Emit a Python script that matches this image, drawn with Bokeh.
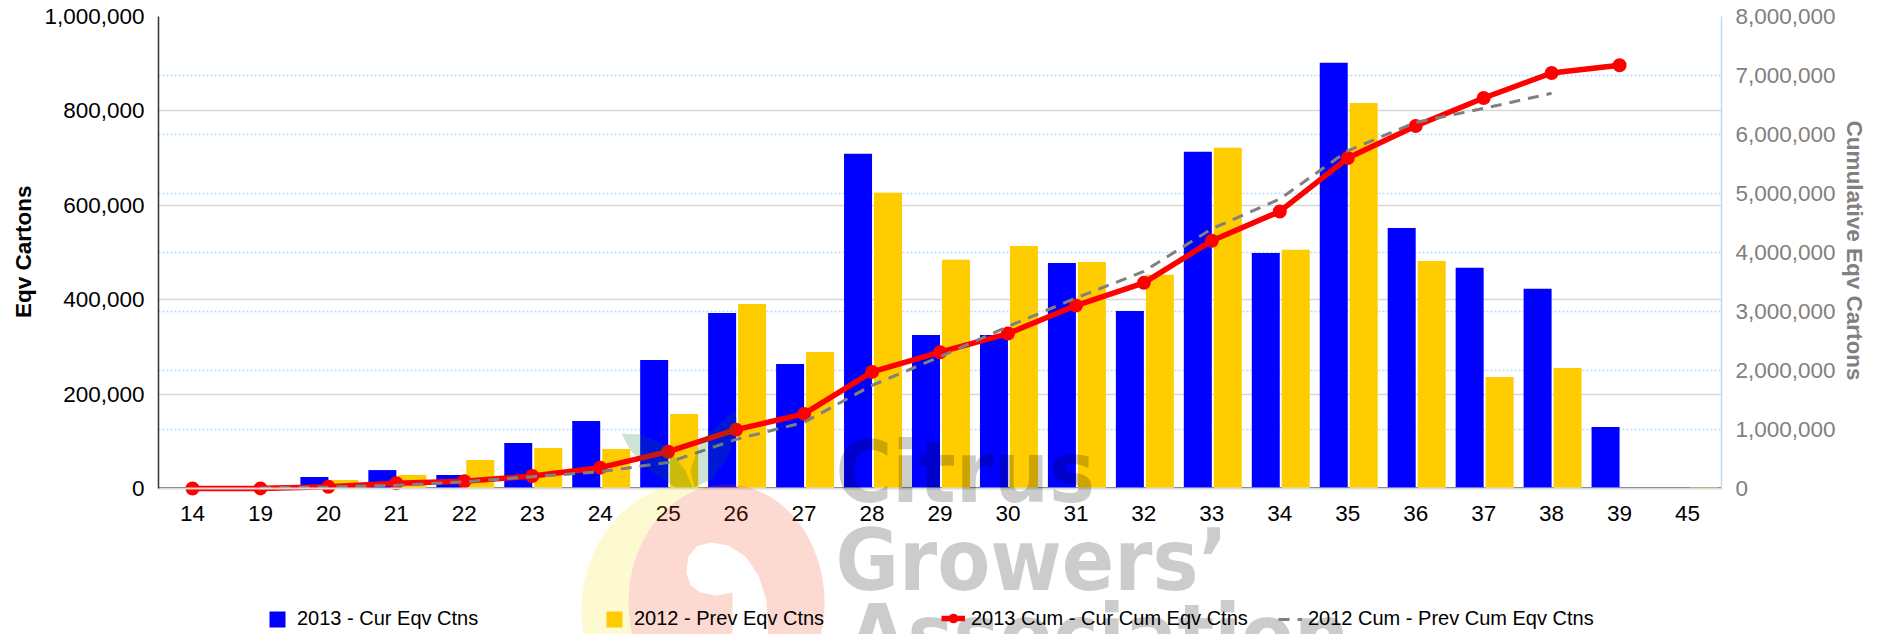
import numpy as np
from bokeh.embed import file_html
from bokeh.resources import INLINE
from bokeh.plotting import figure
from bokeh.models import (FactorRange, Range1d, LinearAxis, NumeralTickFormatter, FixedTicker, Grid,
                          Legend, LegendItem, PolyAnnotation, Label, Span, Title)
from bokeh.transform import dodge

weeks = ["14", "19", "20", "21", "22", "23", "24", "25", "26", "27", "28", "29",
         "30", "31", "32", "33", "34", "35", "36", "37", "38", "39", "45"]
cur_eqv = [1000, 1000, 24400, 39000, 28600, 96500, 143000, 272400, 372000, 264000, 709000, 325400,
           325400, 478000, 376000, 713400, 499000, 902000, 552000, 467500, 423000, 130400, 0]
prev_eqv = [0, 7000, 18000, 28600, 60400, 85900, 83700, 158000, 391000, 289000, 626500, 484400,
            514000, 480000, 452600, 722000, 505600, 817000, 482000, 236000, 255500, 0, 2000]
cum_cur_weeks = weeks[:22]
cum_cur = [1000, 2000, 30000, 88000, 122000, 212000, 353000, 624000, 997000, 1264000, 1976000, 2310000,
           2626000, 3101000, 3486000, 4199000, 4696000, 5601000, 6144000, 6619000, 7043000, 7173000]
cum_prev_weeks = weeks[1:21]
cum_prev = [7000, 25000, 54000, 114000, 200000, 284000, 442000, 833000, 1122000, 1748000, 2233000,
            2747000, 3227000, 3680000, 4402000, 4907000, 5724000, 6206000, 6442000, 6698000]
left_ticks = [0, 200000, 400000, 600000, 800000, 1000000]
right_ticks = [0, 1000000, 2000000, 3000000, 4000000, 5000000, 6000000, 7000000, 8000000]

FONT = "Liberation Sans"
# the frame runs to the bottom of the page so that legend and logo below the axis are not clipped
BELOW = 146 / 472
p = figure(width=1885, height=634, output_backend="svg", toolbar_location=None,
           x_range=FactorRange(*weeks, factor_padding=0, range_padding=0),
           y_range=Range1d(-1000000 * BELOW, 1000000), min_border_left=158, min_border_right=164,
           min_border_top=16, min_border_bottom=0, frame_width=1563, frame_height=618,
           outline_line_color=None)
p.extra_y_ranges = {"cum": Range1d(-8000000 * BELOW, 8000000)}

p.xgrid.visible = False
p.ygrid.ticker = FixedTicker(ticks=left_ticks)
p.ygrid.grid_line_color = "#D8D8D8"
p.ygrid.grid_line_width = 1.5
p.ygrid.bounds = (0, 1000000)

ax_y = p.yaxis[0]
ax_y.ticker = FixedTicker(ticks=left_ticks)
ax_y.bounds = (0, 1000000)
ax_y.formatter = NumeralTickFormatter(format="0,0")
ax_y.major_label_text_font = FONT
ax_y.major_label_text_font_size = "22.5px"
ax_y.major_label_text_color = "#000000"
ax_y.major_label_standoff = 8
ax_y.major_tick_line_color = None
ax_y.minor_tick_line_color = None
ax_y.axis_line_color = "#333333"
ax_y.axis_line_width = 1.5

ax_r = LinearAxis(y_range_name="cum", ticker=FixedTicker(ticks=right_ticks), bounds=(0, 8000000),
                  formatter=NumeralTickFormatter(format="0,0"))
ax_r.major_label_text_font = FONT
ax_r.major_label_text_font_size = "22.5px"
ax_r.major_label_text_color = "#808080"
ax_r.major_label_standoff = 8
ax_r.major_tick_line_color = None
ax_r.minor_tick_line_color = None
ax_r.axis_line_color = "#C0D8F0"
ax_r.axis_line_width = 1.5
p.add_layout(ax_r, "right")

# axis titles as side titles: they sit against the upper part of the frame, centred on the 0 to max span
p.add_layout(Title(text="Eqv Cartons", align="right", offset=169, text_font=FONT, text_font_style="bold",
                   text_font_size="22.5px", text_color="#000000", standoff=12), "left")
p.add_layout(Title(text="Cumulative Eqv Cartons", align="left", offset=104, text_font=FONT, text_font_style="bold",
                   text_font_size="22.5px", text_color="#808080", standoff=6), "right")

p.add_layout(Grid(dimension=1, ticker=FixedTicker(ticks=right_ticks), y_range_name="cum", bounds=(0, 8000000),
                  grid_line_color="#B4DAFF", grid_line_dash="2 2", grid_line_width=1.5))

ax_x = p.xaxis[0]
ax_x.fixed_location = 0
ax_x.major_label_text_font = FONT
ax_x.major_label_text_font_size = "22.5px"
ax_x.major_label_text_color = "#000000"
ax_x.major_label_standoff = 11
ax_x.major_tick_line_color = None
ax_x.minor_tick_line_color = None
ax_x.axis_line_color = "#DDDDDD"
ax_x.axis_line_width = 2
p.add_layout(Span(location=1000, dimension="width", line_color="#000000", line_width=1.5, level="underlay"))


def ell(cx, cy, rx, ry, a0=0.0, a1=2 * np.pi, n=80):
    t = np.linspace(a0, a1, n)
    return cx + rx * np.cos(t), cy + ry * np.sin(t)


def shape(xs, ys, color, alpha=1.0):
    p.add_layout(PolyAnnotation(xs=list(xs), ys=list(ys), xs_units="canvas", ys_units="canvas", fill_color=color,
                                fill_alpha=alpha, line_alpha=0, level="annotation"))


# logo, translucent as in the reference
PC = (726, 602, 98, 118)
yx, yy = ell(690, 610, 109, 126, np.pi / 2, 1.75 * np.pi, 160)
outside = ((yx - PC[0]) / PC[2]) ** 2 + ((yy - PC[1]) / PC[3]) ** 2 > 1
yx, yy = yx[outside], yy[outside]
ax_, ay_ = ell(*PC, 0.7 * np.pi, 1.5 * np.pi, 60)
inside = ((ax_ - 690) / 109) ** 2 + ((ay_ - 610) / 126) ** 2 < 1
shape(np.r_[yx, ax_[inside][::-1]], np.r_[yy, ay_[inside][::-1]], "#F5E61E", 0.2)
ox, oy = ell(*PC, 0, 2 * np.pi, 120)
hx = [768, 766, 758, 745, 728, 710, 696, 688, 686, 690, 700, 716, 732, 732, 768]
hy = [640, 600, 575, 556, 545, 542, 546, 556, 572, 585, 592, 595, 592, 640, 640]
shape(np.r_[ox, hx], np.r_[oy, hy], "#F0461E", 0.2)

r_cur = p.vbar(x=dodge("x", -0.206, range=p.x_range), top="y", bottom=0, width=0.412,
               source={"x": weeks, "y": cur_eqv}, fill_color="#0000FF", line_color=None)
r_prev = p.vbar(x=dodge("x", 0.235, range=p.x_range), top="y", bottom=0, width=0.412,
                source={"x": weeks, "y": prev_eqv}, fill_color="#FFCC00", line_color=None)
r_line = p.line(cum_cur_weeks, cum_cur, y_range_name="cum", line_color="#FF0000", line_width=5.5)
r_mark = p.scatter(cum_cur_weeks, cum_cur, y_range_name="cum", size=14, marker="circle",
                   fill_color="#FF0000", line_color=None)
r_dash = p.line(cum_prev_weeks, cum_prev, y_range_name="cum", line_color="#808080", line_width=3,
                line_dash="11 8")

# translucent leaves and wordmark, above the bars
shape([621, 640, 665, 685, 692, 675, 650, 630], [433, 434, 445, 470, 487, 487, 470, 450], "#007332", 0.2)
shape([735, 737, 728, 712, 694, 690, 700], [410, 425, 455, 478, 487, 470, 440], "#007332", 0.2)
for word, x, y in [("Citrus", 835, 471), ("Growers\u2019", 835, 559), ("Association", 847, 634)]:
    p.add_layout(Label(x=x, y=y, x_units="canvas", y_units="canvas", text=word,
                       text_font="DejaVu Sans Condensed", text_font_style="bold", text_font_size="86px",
                       text_color="#000000", text_alpha=0.2, text_baseline="alphabetic"))


def legend_at(label, renderers, abs_x, glyph_w, glyph_h, standoff, y):
    leg = Legend(items=[LegendItem(label=label, renderers=renderers)], location=(abs_x - 158, y),
                 glyph_width=glyph_w, glyph_height=glyph_h, label_standoff=standoff, padding=0, margin=0,
                 spacing=0, background_fill_alpha=0, border_line_alpha=0, label_text_font=FONT,
                 label_text_font_size="20px", label_text_color="#000000")
    p.add_layout(leg, "center")


legend_at("2013 - Cur Eqv Ctns", [r_cur], 267, 20, 20, 10, 4)
legend_at("2012 - Prev Eqv Ctns", [r_prev], 604, 20, 20, 10, 4)
legend_at("2013 Cum - Cur Cum Eqv Ctns", [r_line, r_mark], 941, 24, 40, 6, -4)
legend_at("2012 Cum - Prev Cum Eqv Ctns", [r_dash], 1278, 24, 20, 6, 4)

open("out.html", "w").write(file_html(p, INLINE))
